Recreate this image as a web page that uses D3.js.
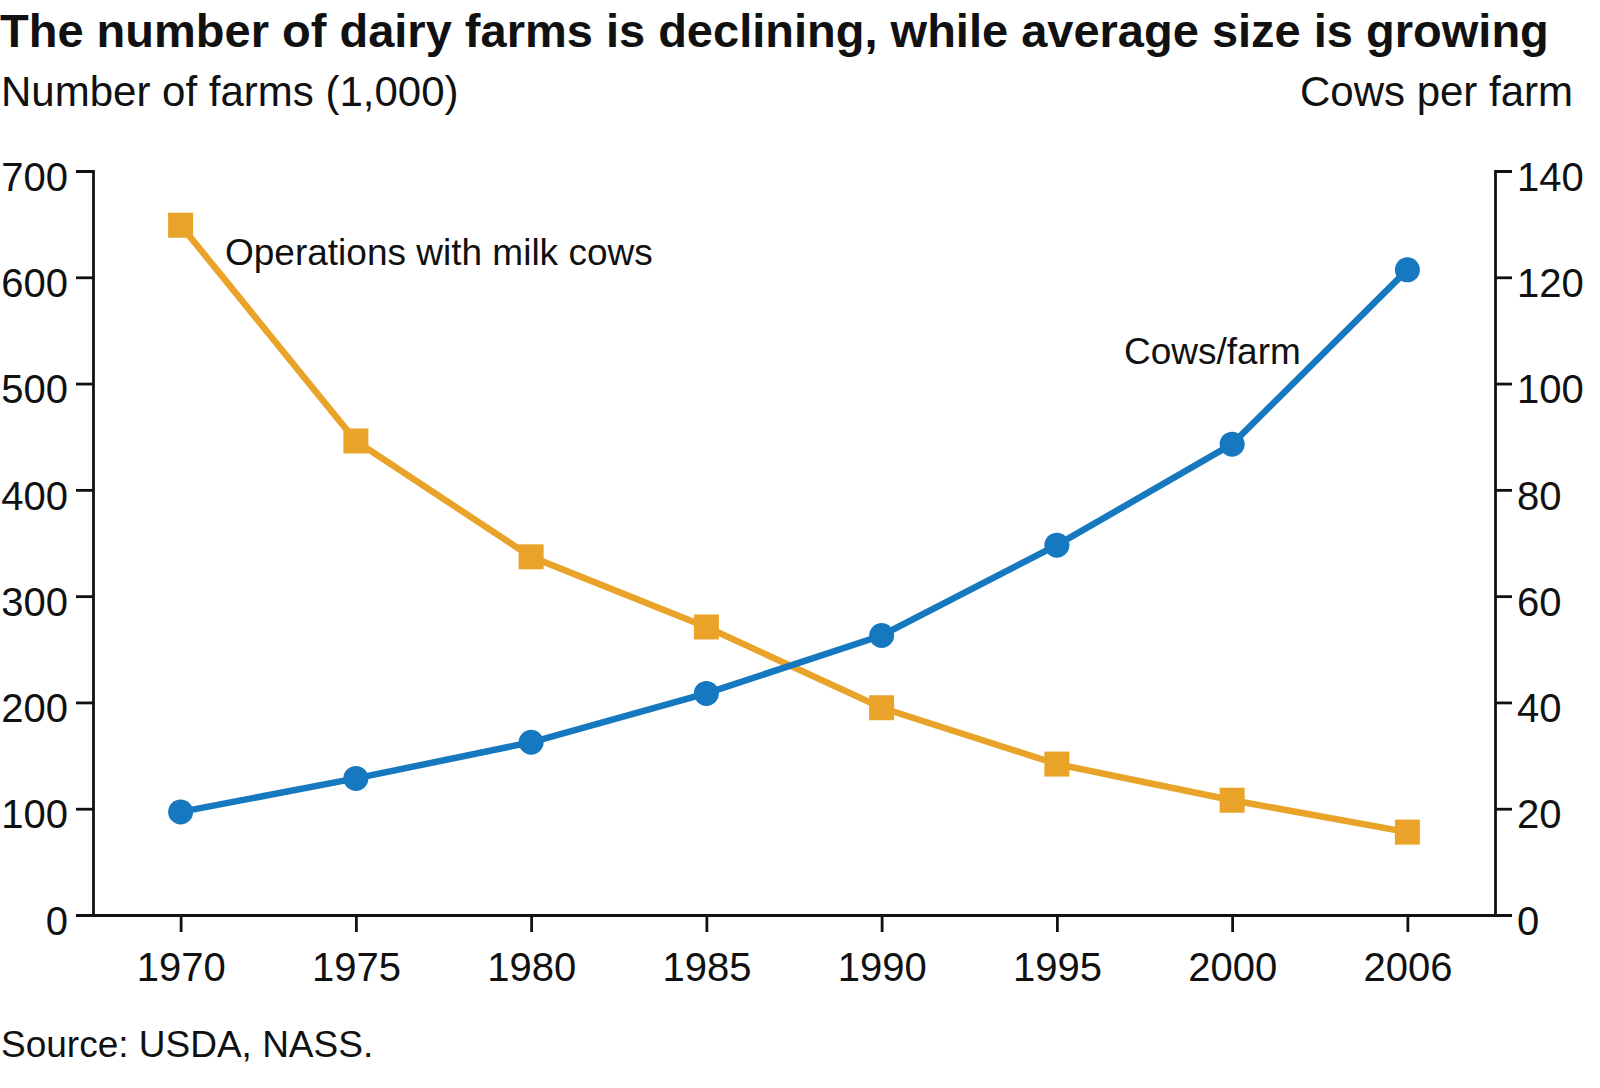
<!DOCTYPE html>
<html>
<head>
<meta charset="utf-8">
<script src="https://cdn.jsdelivr.net/npm/d3@7"></script>
<style>
  body { margin: 0; background: #fff; }
  svg text { font-family: "Liberation Sans", Arial, Helvetica, sans-serif; fill: #111; }
  .axis path, .axis line { stroke: #111; stroke-width: 2.8; }
  .axis text { font-size: 40px; }
</style>
</head>
<body>
<div id="viz"></div>
<script>
// data
years = ['1970', '1975', '1980', '1985', '1990', '1995', '2000', '2006'];
farms = [649, 446, 337, 271, 195, 142, 108, 78];       // thousands of operations
cowsPerFarm = [19.4, 25.7, 32.5, 41.7, 52.6, 69.6, 88.6, 121.4];
leftTicks = [0, 100, 200, 300, 400, 500, 600, 700];
rightTicks = [0, 20, 40, 60, 80, 100, 120, 140];

orange = '#e9a328';
blue = '#1679bf';

width = 1600;
height = 1088;
margin = {top: 171, right: 105, bottom: 173, left: 93};

svg = d3.select('#viz').append('svg')
  .attr('width', width)
  .attr('height', height);

x = d3.scalePoint()
  .domain(years)
  .range([margin.left, width - margin.right])
  .padding(0.5);

yLeft = d3.scaleLinear()
  .domain([0, 700])
  .range([height - margin.bottom, margin.top]);

yRight = d3.scaleLinear()
  .domain([0, 140])
  .range([height - margin.bottom, margin.top]);

// axes
svg.append('g')
  .attr('class', 'axis')
  .attr('transform', 'translate(' + margin.left + ',0)')
  .call(d3.axisLeft(yLeft).tickValues(leftTicks).tickSize(17).tickSizeOuter(17).tickPadding(8))
  .selectAll('text').attr('dy', '0.48em');

svg.append('g')
  .attr('class', 'axis')
  .attr('transform', 'translate(' + (width - margin.right) + ',0)')
  .call(d3.axisRight(yRight).tickValues(rightTicks).tickSize(17).tickSizeOuter(17).tickPadding(5))
  .selectAll('text').attr('dy', '0.48em');

svg.append('g')
  .attr('class', 'axis')
  .attr('transform', 'translate(0,' + (height - margin.bottom) + ')')
  .call(d3.axisBottom(x).tickSize(17).tickSizeOuter(0).tickPadding(21));

svg.selectAll('.axis .domain').attr('fill', 'none');

// farms line (orange squares)
sq = 25;
svg.append('path')
  .datum(farms)
  .attr('fill', 'none')
  .attr('stroke', orange)
  .attr('stroke-width', 6.5)
  .attr('d', d3.line().x((d, i) => x(years[i])).y(d => yLeft(d)));

svg.selectAll('rect.farm')
  .data(farms)
  .enter()
  .append('rect')
  .attr('class', 'farm')
  .attr('x', (d, i) => x(years[i]) - sq / 2)
  .attr('y', d => yLeft(d) - sq / 2)
  .attr('width', sq)
  .attr('height', sq)
  .attr('fill', orange);

// cows per farm line (blue circles)
svg.append('path')
  .datum(cowsPerFarm)
  .attr('fill', 'none')
  .attr('stroke', blue)
  .attr('stroke-width', 6.5)
  .attr('d', d3.line().x((d, i) => x(years[i])).y(d => yRight(d)));

svg.selectAll('circle.cows')
  .data(cowsPerFarm)
  .enter()
  .append('circle')
  .attr('class', 'cows')
  .attr('cx', (d, i) => x(years[i]))
  .attr('cy', d => yRight(d))
  .attr('r', 12.5)
  .attr('fill', blue);

// texts
svg.append('text')
  .attr('x', 0)
  .attr('y', 47)
  .attr('font-size', 47)
  .attr('font-weight', 'bold')
  .text('The number of dairy farms is declining, while average size is growing');

svg.append('text')
  .attr('x', 1)
  .attr('y', 106)
  .attr('font-size', 42)
  .text('Number of farms (1,000)');

svg.append('text')
  .attr('x', 1573)
  .attr('y', 106)
  .attr('text-anchor', 'end')
  .attr('font-size', 42)
  .text('Cows per farm');

svg.append('text')
  .attr('x', 225)
  .attr('y', 265)
  .attr('font-size', 37)
  .text('Operations with milk cows');

svg.append('text')
  .attr('x', 1124)
  .attr('y', 364)
  .attr('font-size', 37)
  .text('Cows/farm');

svg.append('text')
  .attr('x', 1)
  .attr('y', 1057)
  .attr('font-size', 37)
  .text('Source: USDA, NASS.');
</script>
</body>
</html>
